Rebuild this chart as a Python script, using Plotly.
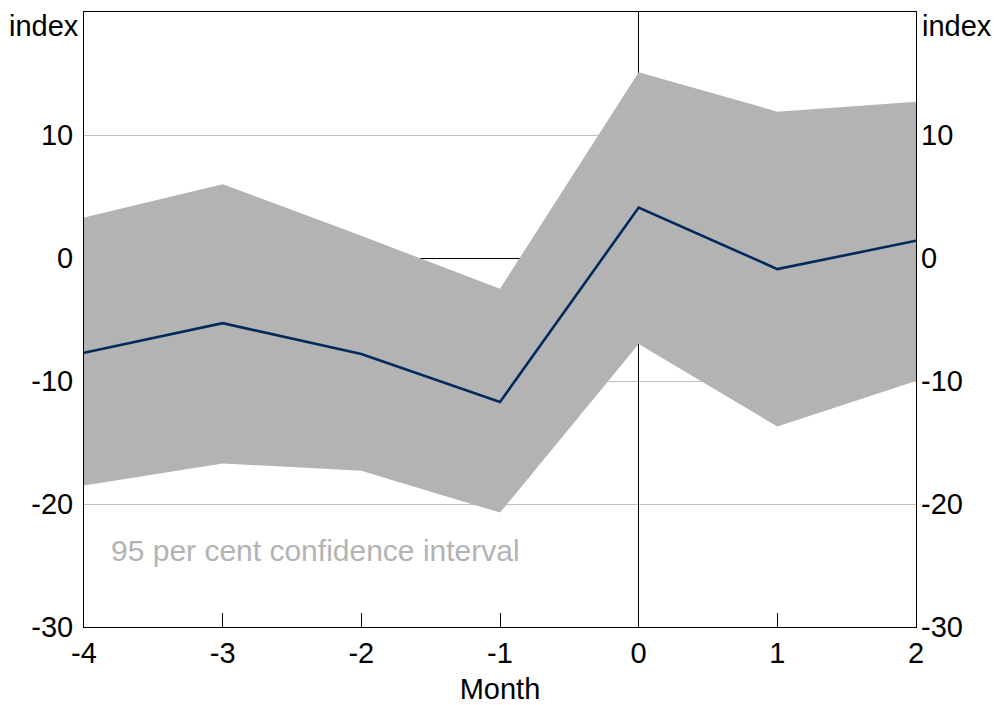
import plotly.graph_objects as go

months = [-4, -3, -2, -1, 0, 1, 2]
estimate = [-7.7, -5.3, -7.8, -11.7, 4.1, -0.9, 1.4]
upper = [3.3, 6.0, 1.8, -2.5, 15.1, 11.9, 12.7]
lower = [-18.5, -16.7, -17.3, -20.7, -7.0, -13.7, -10.0]
y_ticks = [-30, -20, -10, 0, 10]
y_tick_labels = ["-30", "-20", "-10", "0", "10"]
x_ticks = [-4, -3, -2, -1, 0, 1, 2]
x_tick_labels = ["-4", "-3", "-2", "-1", "0", "1", "2"]

FONT = "Liberation Sans, Arial, sans-serif"
BAND = "#b3b3b3"
LINE = "#002a5c"

fig = go.Figure()
fig.add_trace(go.Scatter(x=months, y=upper, mode="lines", line=dict(width=0, color=BAND),
                         showlegend=False, hoverinfo="skip"))
fig.add_trace(go.Scatter(x=months, y=lower, mode="lines", line=dict(width=0, color=BAND),
                         fill="tonexty", fillcolor=BAND, showlegend=False, hoverinfo="skip"))
fig.add_trace(go.Scatter(x=months, y=estimate, mode="lines", line=dict(width=2.6, color=LINE),
                         showlegend=False))
fig.add_trace(go.Scatter(x=months, y=estimate, yaxis="y2", mode="lines",
                         line=dict(width=0), opacity=0, showlegend=False, hoverinfo="skip"))

axis_font = dict(family=FONT, size=29, color="black")

fig.update_layout(
    width=994, height=705,
    margin=dict(l=84, r=78, t=12, b=78),
    paper_bgcolor="white", plot_bgcolor="white",
    font=axis_font,
    xaxis=dict(range=[-4, 2], tickvals=x_ticks, ticktext=x_tick_labels,
               ticks="inside", ticklen=14, tickcolor="black", tickwidth=1,
               showline=True, linecolor="black", linewidth=1, mirror=True,
               showgrid=False, zeroline=True, zerolinecolor="black", zerolinewidth=1,
               tickfont=axis_font, automargin=False,
               title=dict(text="Month", font=axis_font, standoff=10)),
    yaxis=dict(range=[-30, 20], tickvals=y_ticks, ticktext=y_tick_labels, ticks="",
               showline=True, linecolor="black", linewidth=1, mirror=True,
               showgrid=True, gridcolor="#c0c0c0", gridwidth=1,
               zeroline=True, zerolinecolor="black", zerolinewidth=1,
               tickfont=axis_font, ticklabelstandoff=4, automargin=False),
    yaxis2=dict(range=[-30, 20], tickvals=y_ticks, ticktext=y_tick_labels, ticks="",
                overlaying="y", side="right",
                showline=False, showgrid=False, zeroline=False,
                tickfont=axis_font, ticklabelstandoff=4, automargin=False),
    annotations=[
        dict(text="index", xref="paper", yref="paper", x=0, y=0.977, xanchor="right",
             yanchor="middle", xshift=-3, showarrow=False, font=axis_font),
        dict(text="index", xref="paper", yref="paper", x=1, y=0.977, xanchor="left",
             yanchor="middle", xshift=4, showarrow=False, font=axis_font),
        dict(text="95 per cent confidence interval", xref="x", yref="y", x=-3.82, y=-23.8,
             xanchor="left", yanchor="middle", showarrow=False,
             font=dict(family=FONT, size=30, color=BAND)),
    ],
)

fig.write_html(
    "out.html",
    config={"displayModeBar": False},
    post_script="document.body.style.margin='0';document.documentElement.style.overflow='hidden';",
)
